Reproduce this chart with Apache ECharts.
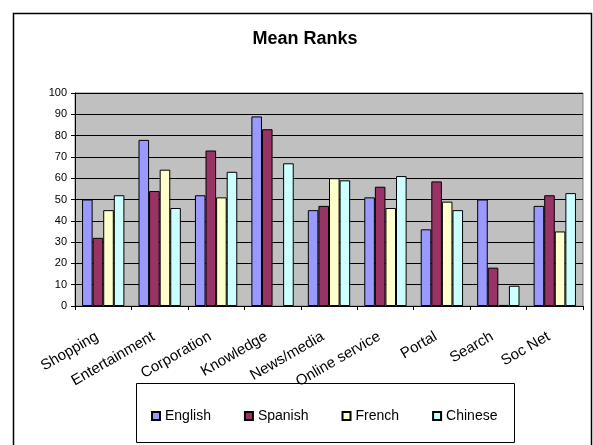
<!DOCTYPE html>
<html>
<head>
<meta charset="utf-8">
<script src="https://cdn.jsdelivr.net/npm/echarts@6/dist/echarts.min.js"></script>
<style>
html,body{margin:0;padding:0;background:#fff;}
#c{width:593px;height:445px;}
</style>
</head>
<body>
<div id="c"></div>
<script>
const categories = ['Shopping','Entertainment','Corporation','Knowledge','News/media','Online service','Portal','Search','Soc Net'];
const english = [50, 78, 52, 89, 45, 51, 36, 50, 47];
const spanish = [32, 54, 73, 83, 47, 56, 58.5, 18, 52];
const french  = [45, 64, 51, null, 60, 46, 49, 0.5, 35];
const chinese = [52, 46, 63, 67, 59, 61, 45, 9.5, 53];
const yTicks = [0,10,20,30,40,50,60,70,80,90,100];

const chart = echarts.init(document.getElementById('c'), null, {renderer:'canvas'});
const font = 'Arial, "Liberation Sans", sans-serif';
function bar(name, data, color){
  return {name, type:'bar', data, barGap:'0%', barCategoryGap:'25%',
    itemStyle:{color, borderColor:'#000', borderWidth:1}};
}
chart.setOption({
  animation:false,
  backgroundColor:'#fff',
  title:{text:'Mean Ranks', left:300, top:25, textAlign:'center',
    textStyle:{fontFamily:font, fontSize:18, fontWeight:'bold', color:'#000'}},
  grid:{left:75, right:10, top:93, bottom:139, show:true, backgroundColor:'#C0C0C0', borderColor:'#808080', borderWidth:1},
  legend:{left:146, top:404, itemGap:33, itemWidth:8, itemHeight:8, icon:'rect',
    textStyle:{fontFamily:font, fontSize:14, color:'#000'},
    data:['English','Spanish','French','Chinese']},
  xAxis:{type:'category', data:categories,
    axisLine:{lineStyle:{color:'#000', width:1}},
    axisTick:{show:true, alignWithLabel:false, length:4, lineStyle:{color:'#000'}},
    axisLabel:{rotate:30, interval:0, margin:26, padding:[0,7,0,0], fontFamily:font, fontSize:15, color:'#000'}},
  yAxis:{type:'value', min:0, max:100, interval:10,
    axisLine:{show:true, lineStyle:{color:'#000'}},
    axisTick:{show:true, length:4, lineStyle:{color:'#000'}},
    splitLine:{lineStyle:{color:'#000', width:1}},
    axisLabel:{fontFamily:font, fontSize:11, color:'#000', margin:8,
      formatter:v=> yTicks.includes(v) ? String(v) : ''}},
  series:[
    bar('English', english, '#9999FF'),
    bar('Spanish', spanish, '#993366'),
    bar('French', french, '#FFFFCC'),
    bar('Chinese', chinese, '#CCFFFF')
  ],
  graphic:[
    {type:'rect', z:-1, shape:{x:13.5, y:13.5, width:578, height:460}, style:{fill:null, stroke:'#000', lineWidth:1.5}},
    {type:'rect', z:0, shape:{x:136.5, y:383.5, width:378, height:59}, style:{fill:null, stroke:'#000', lineWidth:1}}
  ]
});
</script>
</body>
</html>
